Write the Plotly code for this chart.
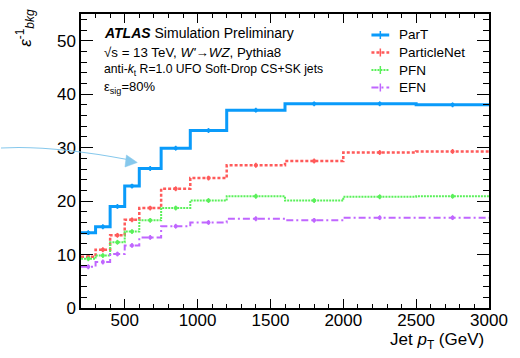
import plotly.graph_objects as go

# ---- data ----
bin_edges = [200, 300, 400, 500, 600, 750, 950, 1200, 1600, 2000, 2500, 3000]
part_vals = [14.1, 15.2, 19.0, 22.8, 26.1, 29.9, 33.2, 37.0, 38.2, 38.2, 38.0]
pnet_vals = [9.6, 10.9, 13.6, 16.5, 18.7, 22.3, 24.3, 26.7, 27.5, 29.1, 29.3]
pfn_vals = [9.2, 9.8, 12.3, 14.3, 16.4, 18.7, 20.1, 20.9, 20.1, 20.8, 20.9]
efn_vals = [7.7, 8.6, 10.1, 11.7, 13.2, 15.3, 16.0, 16.7, 16.4, 16.9, 16.9]
series_names = ["ParT", "ParticleNet", "PFN", "EFN"]
x_ticks = [500, 1000, 1500, 2000, 2500, 3000]
y_ticks = [0, 10, 20, 30, 40, 50]

styles = {
    "ParT": dict(color="#0A9BFA", width=3, dash="solid"),
    "ParticleNet": dict(color="#FF5A5A", width=2.5, dash="3px,2px"),
    "PFN": dict(color="#5AF05A", width=2, dash="2px,1px"),
    "EFN": dict(color="#C066FF", width=2, dash="7px,3px,2px,3px"),
}

centers = [(a + b) / 2 for a, b in zip(bin_edges[:-1], bin_edges[1:])]

fig = go.Figure()
for name, vals in zip(series_names, [part_vals, pnet_vals, pfn_vals, efn_vals]):
    st = styles[name]
    fig.add_trace(go.Scatter(
        x=bin_edges, y=vals + [vals[-1]], mode="lines", line_shape="hv",
        line=dict(color=st["color"], width=st["width"], dash=st["dash"]),
        name=name, showlegend=False,
    ))
    fig.add_trace(go.Scatter(
        x=centers, y=vals, mode="markers",
        marker=dict(color=st["color"], size=4),
        error_y=dict(type="constant", value=0.45, color=st["color"], thickness=1.5, width=0),
        showlegend=False, hoverinfo="skip",
    ))

axis_common = dict(
    showline=True, linecolor="black", linewidth=1.5, mirror="ticks",
    ticks="inside", tickcolor="black", tickwidth=1.2,
    showgrid=False, zeroline=False,
    tickfont=dict(family="Liberation Sans, Arial", size=17, color="black"),
)

fig.update_xaxes(range=[200, 3000], tickvals=x_ticks, ticklen=9, ticklabelstandoff=-4,
                 minor=dict(ticks="inside", ticklen=4.5, dtick=100, tick0=0, tickcolor="black", tickwidth=1.2),
                 **axis_common)
fig.update_yaxes(range=[0, 55], tickvals=y_ticks, ticklen=12,
                 minor=dict(ticks="inside", ticklen=6, dtick=2, tick0=0, tickcolor="black", tickwidth=1.2),
                 **axis_common)

L, R, T, B = 81, 26, 14, 50
W, H = 520, 358
pw, ph = W - L - R, H - T - B


def px(x):
    return (x - L) / pw


def py(y):
    return (H - B - y) / ph


font = "Liberation Sans, Arial"
texts = [
    ("<b><i>ATLAS</i></b> Simulation Preliminary", 102, 33, 14),
    ("√s = 13 TeV, <i>W'</i>→<i>WZ</i>, Pythia8", 102, 52, 13.3),
    ("anti-<i>k</i><sub>t</sub> R=1.0 UFO Soft-Drop CS+SK jets", 102, 70, 12.2),
    ("ε<sub>sig</sub>=80%", 102, 88, 13),
]
for t, x, y, s in texts:
    fig.add_annotation(text=t, x=px(x), y=py(y), xref="paper", yref="paper",
                       xanchor="left", yanchor="middle", showarrow=False,
                       font=dict(family=font, size=s, color="black"))

# manual legend (ROOT style: short line sample with error-bar tick)
leg_y = [35, 52.5, 70, 87.5]
for name, yy in zip(series_names, leg_y):
    st = styles[name]
    fig.add_shape(type="line", xref="paper", yref="paper",
                  x0=px(375), x1=px(393), y0=py(yy), y1=py(yy),
                  line=dict(color=st["color"], width=st["width"], dash=st["dash"]))
    fig.add_shape(type="line", xref="paper", yref="paper",
                  x0=px(384), x1=px(384), y0=py(yy - 4), y1=py(yy + 4),
                  line=dict(color=st["color"], width=1.5))
    fig.add_annotation(text=name, x=px(401), y=py(yy), xref="paper", yref="paper",
                       xanchor="left", yanchor="middle", showarrow=False,
                       font=dict(family=font, size=13.5, color="black"))

# axis titles
fig.add_annotation(text="<i>ε</i><sup>-1</sup><sub><i>bkg</i></sub>", x=px(24), y=py(28),
                   xref="paper", yref="paper", xanchor="center", yanchor="middle",
                   textangle=-90, showarrow=False, font=dict(family=font, size=17, color="black"))
fig.add_annotation(text="Jet <i>p</i><sub>T</sub> (GeV)", x=px(491), y=py(341),
                   xref="paper", yref="paper", xanchor="right", yanchor="middle",
                   showarrow=False, font=dict(family=font, size=17, color="black"))

# light-blue pointer arrow
arrow_col = "#86C8EC"
fig.add_shape(type="path", xref="paper", yref="paper",
              path=f"M {px(0)},{py(148)} Q {px(50)},{py(145)} {px(128)},{py(159.5)}",
              line=dict(color=arrow_col, width=1.2))
fig.add_shape(type="path", xref="paper", yref="paper",
              path=f"M {px(138)},{py(162.5)} L {px(127)},{py(155)} L {px(125.5)},{py(167)} Z",
              line=dict(color=arrow_col, width=0.5), fillcolor=arrow_col)

fig.update_layout(
    width=W, height=H, margin=dict(l=L, r=R, t=T, b=B),
    paper_bgcolor="white", plot_bgcolor="white",
    showlegend=False,
)

fig.write_html("out.html")
